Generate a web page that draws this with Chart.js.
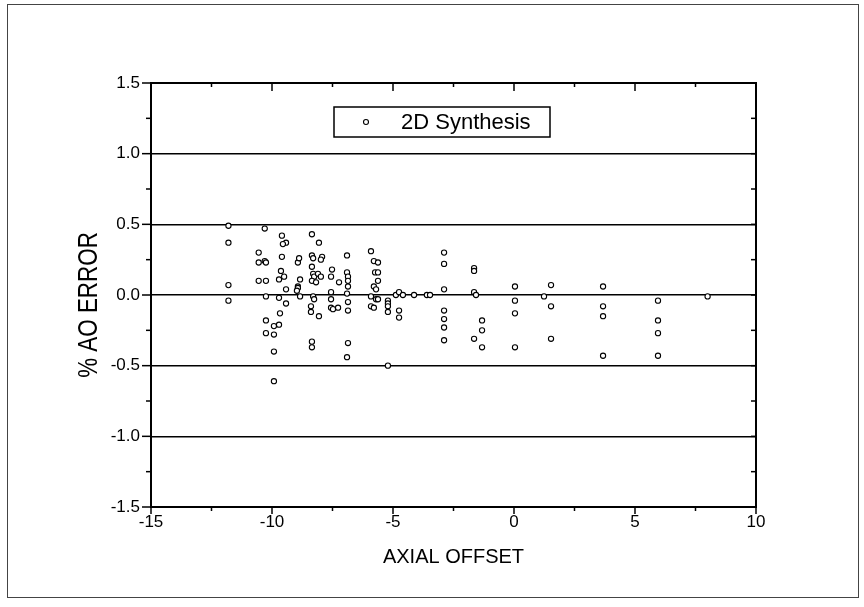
<!DOCTYPE html>
<html><head><meta charset="utf-8">
<script src="https://cdn.jsdelivr.net/npm/chart.js@4.4.1/dist/chart.umd.min.js"></script>
<style>html,body{margin:0;padding:0;background:#fff;}#wrap{width:864px;height:607px;}</style>
</head><body><div id="wrap"><canvas id="c" width="864" height="607"></canvas></div>
<script>
const seriesLabel = '2D Synthesis';
const xAxisTitle = 'AXIAL OFFSET';
const yAxisTitle = '% AO ERROR';
const xTickValues = [-15, -10, -5, 0, 5, 10];
const yTickValues = [-1.5, -1.0, -0.5, 0.0, 0.5, 1.0, 1.5];

const axialOffset = [
  -11.8, -11.8, -11.8, -11.8,
  -10.55, -10.55, -10.55,
  -10.3, -10.3, -10.25, -10.25, -10.25, -10.25, -10.25,
  -9.92, -9.92, -9.92, -9.92,
  -9.59, -9.42, -9.55, -9.59, -9.63, -9.5, -9.71, -9.71, -9.42, -9.42, -9.67, -9.71,
  -8.93, -8.88, -8.84, -8.93, -8.93, -8.84, -8.97,
  -8.35, -8.06, -8.35, -8.3, -7.93, -7.98, -8.35, -8.3, -8.26, -8.1, -7.98, -8.35, -8.18, -8.3, -8.26, -8.39, -8.39, -8.06, -8.35, -8.35,
  -7.52, -7.56, -7.23, -7.56, -7.56, -7.56, -7.48, -7.27,
  -6.9, -6.9, -6.86, -6.86, -6.86, -6.9, -6.86, -6.86, -6.86, -6.9,
  -5.91, -5.79, -5.62, -5.74, -5.62, -5.62, -5.79, -5.7, -5.91, -5.7, -5.62, -5.91, -5.79,
  -5.21, -5.21, -5.21, -5.21, -5.21,
  -4.88, -4.75, -4.59, -4.75, -4.75,
  -4.13, -3.6, -3.47,
  -2.89, -2.89, -2.89, -2.89, -2.89, -2.89, -2.89,
  -1.65, -1.65, -1.65, -1.57, -1.65,
  -1.32, -1.32, -1.32,
  0.04, 0.04, 0.04, 0.04,
  1.53, 1.24, 1.53, 1.53,
  3.68, 3.68, 3.68, 3.68,
  5.95, 5.95, 5.95, 5.95,
  8.0
];
const aoError = [
  0.49, 0.37, 0.07, -0.04,
  0.30, 0.23, 0.10,
  0.47, 0.24, 0.23, 0.10, -0.01, -0.18, -0.27,
  -0.22, -0.28, -0.40, -0.61,
  0.42, 0.37, 0.36, 0.27, 0.17, 0.13, 0.11, -0.02, 0.04, -0.06, -0.13, -0.21,
  0.23, 0.26, 0.11, 0.06, 0.05, -0.01, 0.03,
  0.43, 0.37, 0.28, 0.26, 0.27, 0.25, 0.20, 0.15, 0.13, 0.15, 0.13, 0.10, 0.09, -0.01, -0.03, -0.08, -0.12, -0.15, -0.33, -0.37,
  0.18, 0.13, 0.09, 0.02, -0.03, -0.09, -0.10, -0.09,
  0.28, 0.16, 0.13, 0.10, 0.06, 0.01, -0.05, -0.11, -0.34, -0.44,
  0.31, 0.24, 0.23, 0.16, 0.16, 0.10, 0.06, 0.04, -0.01, -0.03, -0.03, -0.08, -0.09,
  -0.04, -0.06, -0.08, -0.12, -0.50,
  0.0, 0.02, 0.0, -0.11, -0.16,
  0.0, 0.0, 0.0,
  0.30, 0.22, 0.04, -0.11, -0.17, -0.23, -0.32,
  0.19, 0.17, 0.02, 0.0, -0.31,
  -0.18, -0.25, -0.37,
  0.06, -0.04, -0.13, -0.37,
  0.07, -0.01, -0.08, -0.31,
  0.06, -0.08, -0.15, -0.43,
  -0.04, -0.18, -0.27, -0.43,
  -0.01
];

const FONT = "'Liberation Sans', Arial, sans-serif";
const points = axialOffset.map((x, i) => ({ x: x, y: aoError[i] }));

function line(ctx, x1, y1, x2, y2) {
  ctx.beginPath(); ctx.moveTo(x1, y1); ctx.lineTo(x2, y2); ctx.stroke();
}

const framePlugin = {
  id: 'frame',
  afterDraw(chart) {
    const { ctx, chartArea: a, scales } = chart;
    const xs = scales.x, ys = scales.y;
    ctx.save();
    ctx.strokeStyle = '#000';
    // plot box
    ctx.lineWidth = 2;
    ctx.strokeRect(a.left, a.top, a.right - a.left, a.bottom - a.top);
    // x ticks (major every 5, minor every 2.5)
    ctx.lineWidth = 1.5;
    for (let v = xs.min; v <= xs.max + 1e-9; v += 2.5) {
      const px = xs.getPixelForValue(v);
      const major = Math.abs(v % 5) < 1e-9;
      line(ctx, px, a.bottom, px, a.bottom + (major ? 7 : 4));
      line(ctx, px, a.top, px, a.top + (major ? 8 : 4));
    }
    // y ticks (major every 0.5, minor every 0.25)
    for (let k = 0; k <= 12; k++) {
      const v = ys.min + k * 0.25;
      const py = ys.getPixelForValue(v);
      const major = k % 2 === 0;
      line(ctx, a.left - (major ? 9 : 5), py, a.left, py);
      line(ctx, a.right - 5, py, a.right, py);
    }
    // legend box
    const ds = chart.data.datasets[0];
    const lx = a.left + 183, ly = a.top + 24, lw = 216, lh = 30;
    ctx.lineWidth = 1.5;
    ctx.strokeRect(lx, ly, lw, lh);
    ctx.lineWidth = 1.1;
    ctx.fillStyle = '#fff';
    ctx.beginPath(); ctx.arc(lx + 32, ly + lh / 2, 2.5, 0, Math.PI * 2); ctx.fill(); ctx.stroke();
    ctx.fillStyle = '#000';
    ctx.font = '22px ' + FONT;
    ctx.textAlign = 'left'; ctx.textBaseline = 'middle';
    ctx.fillText(ds.label, lx + 67, ly + lh / 2 + 1);
    // y axis title (condensed)
    ctx.save();
    ctx.translate(88, (a.top + a.bottom) / 2 + 10);
    ctx.rotate(-Math.PI / 2);
    ctx.scale(0.8, 1);
    ctx.font = '28px ' + FONT;
    ctx.textAlign = 'center'; ctx.textBaseline = 'middle';
    ctx.fillText(yAxisTitle, 0, 1);
    ctx.restore();
    // outer frame
    ctx.strokeStyle = '#444';
    ctx.lineWidth = 1;
    ctx.strokeRect(7.5, 4.5, 851, 593);
    ctx.restore();
  }
};

new Chart(document.getElementById('c'), {
  type: 'scatter',
  data: {
    datasets: [{
      label: seriesLabel,
      data: points,
      pointStyle: 'circle',
      pointRadius: 2.6,
      pointHoverRadius: 2.6,
      borderColor: '#000',
      backgroundColor: '#fff',
      borderWidth: 1.1
    }]
  },
  options: {
    responsive: false,
    animation: false,
    devicePixelRatio: 1,
    layout: { padding: { top: 83, right: 108, bottom: 0, left: 0 } },
    plugins: { legend: { display: false }, tooltip: { enabled: false } },
    scales: {
      x: {
        type: 'linear', position: 'bottom', min: -15, max: 10,
        afterBuildTicks(s) { s.ticks = xTickValues.map(v => ({ value: v })); },
        afterFit(s) { s.height = 100; s.paddingLeft = 0; s.paddingRight = 0; },
        ticks: { font: { family: FONT, size: 17 }, color: '#000', padding: 5, maxRotation: 0, autoSkip: false,
                 callback: v => String(v) },
        grid: { display: false, drawTicks: false },
        border: { display: false },
        title: { display: true, text: xAxisTitle, color: '#000', font: { family: FONT, size: 20 },
                 padding: { top: 0, bottom: 38 } }
      },
      y: {
        type: 'linear', position: 'left', min: -1.5, max: 1.5,
        afterBuildTicks(s) { s.ticks = yTickValues.map(v => ({ value: v })); },
        afterFit(s) { s.width = 151; s.paddingTop = 0; s.paddingBottom = 0; },
        ticks: { font: { family: FONT, size: 17 }, color: '#000', padding: 11, autoSkip: false,
                 callback: v => Number(v).toFixed(1) },
        grid: { drawTicks: false, lineWidth: 1.4,
                color: c => (c.tick && Math.abs(c.tick.value) < 1.4 ? '#000' : 'rgba(0,0,0,0)') },
        border: { display: false }
      }
    }
  },
  plugins: [framePlugin]
});
</script>
</body></html>
